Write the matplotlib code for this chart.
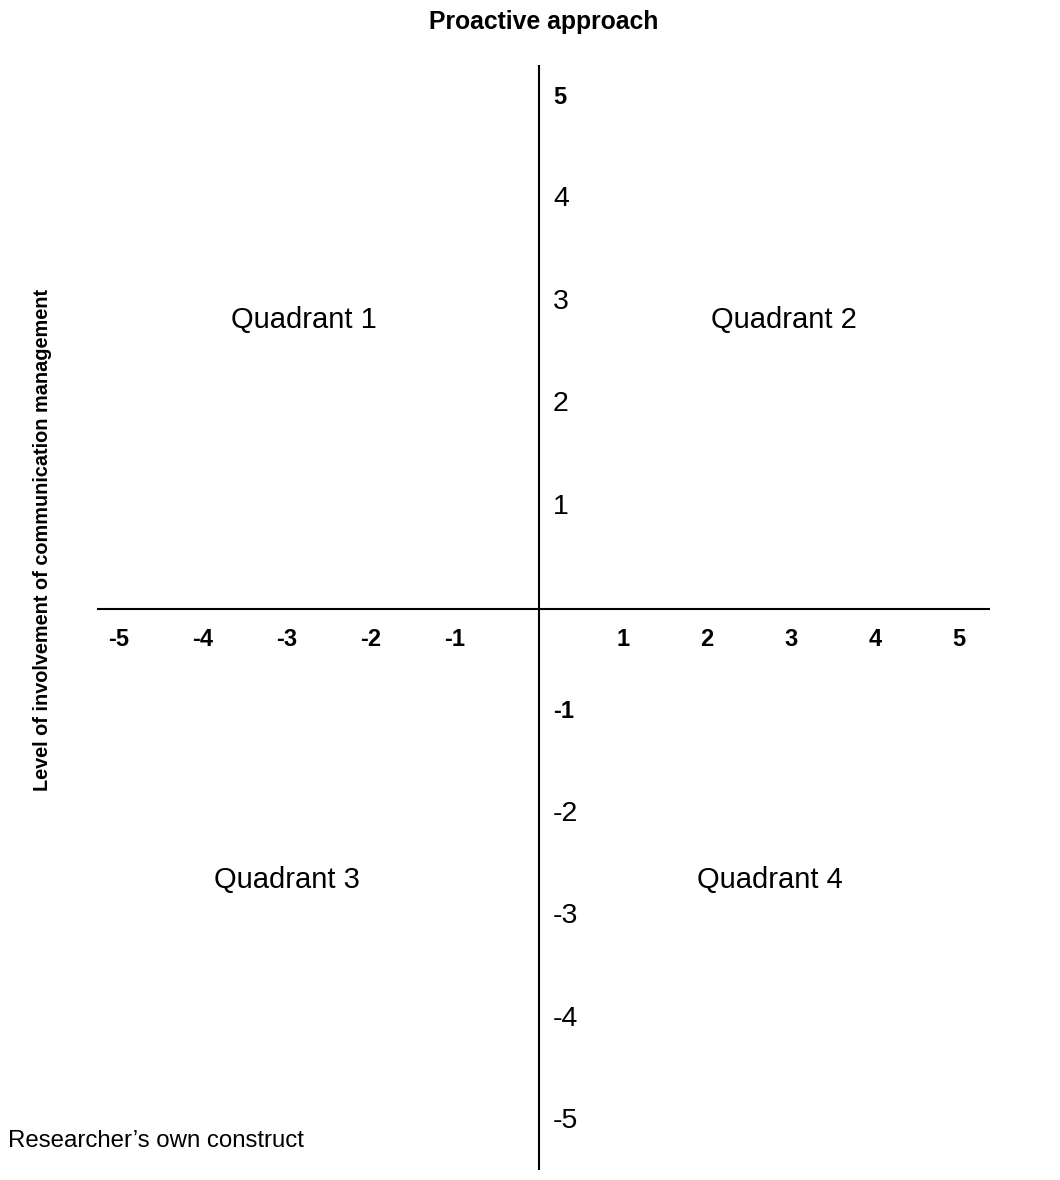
import matplotlib
matplotlib.use("Agg")
import matplotlib.pyplot as plt

plt.rcParams['font.family'] = ['Liberation Sans', 'DejaVu Sans']

# ---- data ----
title = "Proactive approach"
y_title = "Level of involvement of communication management"
footer = "Researcher\u2019s own construct"
x_ticks = [-5, -4, -3, -2, -1, 1, 2, 3, 4, 5]
y_ticks = [5, 4, 3, 2, 1, -1, -2, -3, -4, -5]
y_bold = [5, -1]
quadrants = ["Quadrant 1", "Quadrant 2", "Quadrant 3", "Quadrant 4"]

# ---- layout (data units: 1 x-unit = 84 px, 1 y-unit = 102.4 px) ----
quad_pos = [(-2.80, 2.82), (2.92, 2.82), (-3.00, -2.65), (2.75, -2.65)]
W, H = 1060, 1180
fig = plt.figure(figsize=(W / 100, H / 100), dpi=100)
ax = fig.add_axes([0, 0, 1, 1])
ax.set_xlim(-539 / 84, (W - 539) / 84)
ax.set_ylim(-(H - 609) / 102.4, 609 / 102.4)
ax.axis('off')

# axes lines
ax.plot([0, 0], [5.31, -5.48], color='black', lw=1.5, solid_capstyle='butt')
ax.plot([-5.26, 5.37], [0, 0], color='black', lw=1.5, solid_capstyle='butt')

# x tick labels
for v in x_ticks:
    ax.text(v, -0.30, str(v), ha='center', va='center', fontsize=17,
            fontweight='bold')

# y tick labels
for v in y_ticks:
    bold = v in y_bold
    ax.text(0.167, v, str(v), ha='left', va='center',
            fontsize=17 if bold else 20.5,
            fontweight='bold' if bold else 'normal')

# quadrant labels
for name, (qx, qy) in zip(quadrants, quad_pos):
    ax.text(qx, qy, name, ha='center', va='center', fontsize=21)

fig.text(544 / W, 1 - 22 / H, title, ha='center', va='center',
         fontsize=17.8, fontweight='bold')
fig.text(43 / W, 1 - 540 / H, y_title, ha='center', va='center',
         rotation=90, fontsize=14.3, fontweight='bold')
fig.text(8 / W, 1 - 1141 / H, footer, ha='left', va='center', fontsize=17.3)

fig.savefig("out.png", dpi=100)
